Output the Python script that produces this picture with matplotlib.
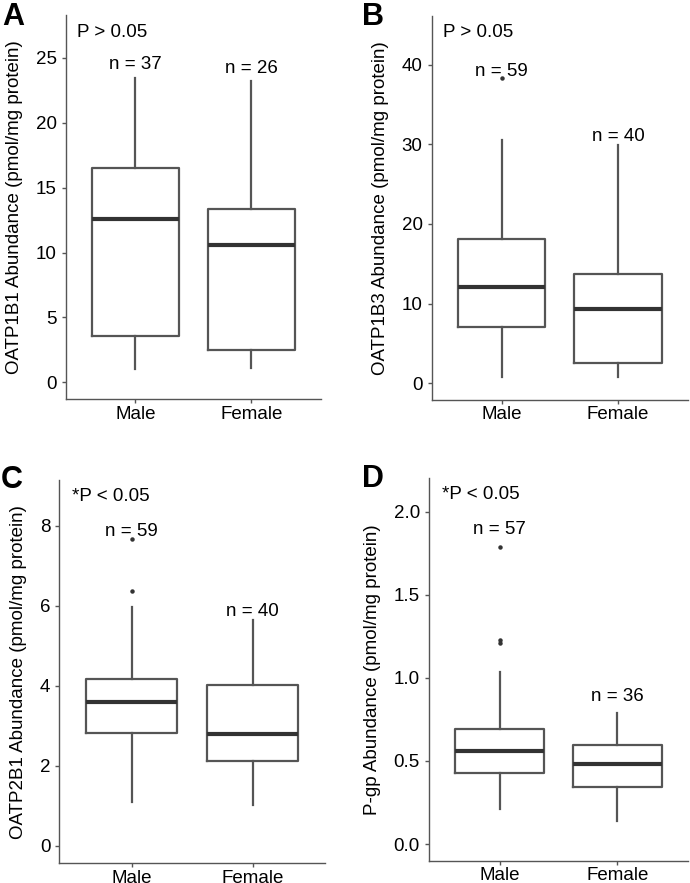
import matplotlib
matplotlib.use("Agg")
import matplotlib.pyplot as plt

plt.rcParams["font.family"] = ["Liberation Sans", "DejaVu Sans"]

W, H = 690, 883
groups = ["Male", "Female"]

# ── values (med, q1, q3, whisker lo, whisker hi) ────────────────────────────
a_med = [12.58, 10.6];  a_q1 = [3.57, 2.49]; a_q3 = [16.54, 13.32]
a_lo = [1.0, 1.13];     a_hi = [23.46, 23.2]; a_out = [[], []]
a_n = [37, 26]

b_med = [12.1, 9.3];    b_q1 = [7.1, 2.5];   b_q3 = [18.1, 13.7]
b_lo = [0.84, 0.84];    b_hi = [30.5, 29.9]; b_out = [[38.3], []]
b_n = [59, 40]

c_med = [3.59, 2.79];   c_q1 = [2.83, 2.13]; c_q3 = [4.16, 4.02]
c_lo = [1.10, 1.02];    c_hi = [5.98, 5.65]; c_out = [[6.38, 7.67], []]
c_n = [59, 40]

d_med = [0.562, 0.481]; d_q1 = [0.429, 0.345]; d_q3 = [0.694, 0.598]
d_lo = [0.209, 0.14];   d_hi = [1.033, 0.79];  d_out = [[1.789, 1.228, 1.212], []]
d_n = [57, 36]

panels = [
    # letter, px box (l, r, t, b), ylim, ticks, ticklabels, ylabel, ptext, p pos, n y pos, stats
    ("A", (65.7, 321, 15, 399.3), (-1.31, 28.3), [0, 5, 10, 15, 20, 25], None,
     "OATP1B1 Abundance (pmol/mg protein)", "P > 0.05", (0.5, 26.95), [24.5, 24.2],
     (a_med, a_q1, a_q3, a_lo, a_hi, a_out, a_n)),
    ("B", (431.7, 688, 16, 400), (-2.1, 46.1), [0, 10, 20, 30, 40], None,
     "OATP1B3 Abundance (pmol/mg protein)", "P > 0.05", (0.5, 44.0), [39.1, 31.0],
     (b_med, b_q1, b_q3, b_lo, b_hi, b_out, b_n)),
    ("C", (59.3, 325, 480, 863.3), (-0.44, 9.15), [0, 2, 4, 6, 8], None,
     "OATP2B1 Abundance (pmol/mg protein)", "*P < 0.05", (0.503, 8.73), [7.86, 5.86],
     (c_med, c_q1, c_q3, c_lo, c_hi, c_out, c_n)),
    ("D", (429, 688, 478.3, 860.7), (-0.1, 2.2), [0, 0.5, 1.0, 1.5, 2.0],
     ["0.0", "0.5", "1.0", "1.5", "2.0"],
     "P-gp Abundance (pmol/mg protein)", "*P < 0.05", (0.508, 2.10), [1.89, 0.89],
     (d_med, d_q1, d_q3, d_lo, d_hi, d_out, d_n)),
]

fig = plt.figure(figsize=(W / 100, H / 100), dpi=100, facecolor="white")
line_c = "#555555"
fs = 13.5

for letter, (l, r, t, b), ylim, ticks, tlabels, ylabel, ptxt, ppos, ny, st in panels:
    ax = fig.add_axes([l / W, 1 - b / H, (r - l) / W, (b - t) / H])
    med, q1, q3, lo, hi, out, n = st
    stats = [dict(med=med[i], q1=q1[i], q3=q3[i], whislo=lo[i], whishi=hi[i],
                  fliers=out[i], label=groups[i]) for i in range(2)]
    ax.bxp(stats, positions=[1, 2], widths=0.75, showcaps=False,
           boxprops=dict(color=line_c, linewidth=1.6),
           whiskerprops=dict(color=line_c, linewidth=1.6),
           medianprops=dict(color="#333333", linewidth=3),
           flierprops=dict(marker="o", markersize=2.2, markerfacecolor="#333333",
                           markeredgecolor="#333333", linestyle="none"))
    ax.set_xlim(0.4, 2.6)
    ax.set_ylim(*ylim)
    ax.set_yticks(ticks)
    if tlabels:
        ax.set_yticklabels(tlabels)
    ax.set_xticks([1, 2])
    ax.set_xticklabels(groups)
    for s in ["top", "right"]:
        ax.spines[s].set_visible(False)
    for s in ["left", "bottom"]:
        ax.spines[s].set_color(line_c)
        ax.spines[s].set_linewidth(1.0)
    ax.tick_params(colors=line_c, labelcolor="black", labelsize=fs, length=3, width=1)
    ax.tick_params(axis="x", pad=1.5)
    ax.set_ylabel(ylabel, fontsize=fs, labelpad=9)
    ax.text(ppos[0], ppos[1], ptxt, fontsize=fs, ha="left", va="center")
    for i in range(2):
        ax.text(i + 1, ny[i], f"n = {n[i]}", fontsize=fs, ha="center", va="center")

# panel letters
for letter, x, y in [("A", 2, 2), ("B", 362, 2), ("C", 1, 465), ("D", 362, 464)]:
    fig.text(x / W, 1 - y / H, letter, fontsize=22, fontweight="bold", ha="left", va="top")

plt.savefig("out.png", dpi=100, facecolor="white")
